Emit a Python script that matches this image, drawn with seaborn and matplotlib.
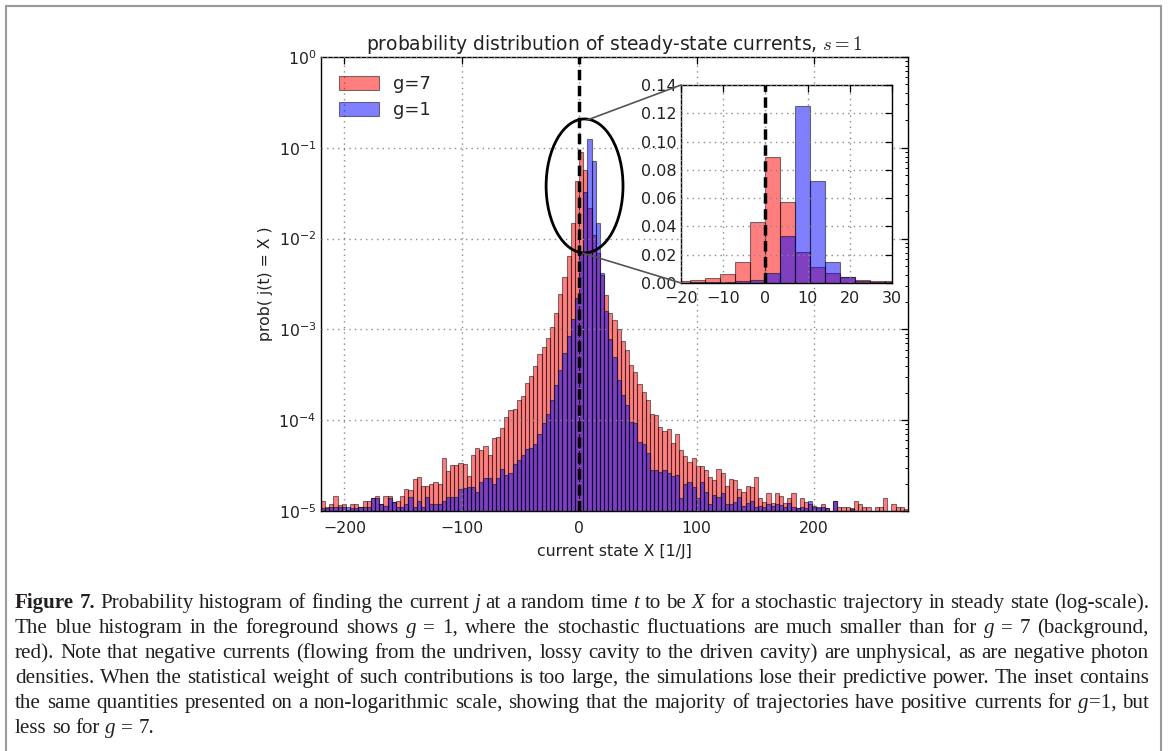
import re
import numpy as np
import pandas as pd
import matplotlib
matplotlib.use("Agg")
import matplotlib.pyplot as plt
import seaborn as sns
from matplotlib.patches import Ellipse, ConnectionPatch, Patch
from matplotlib.lines import Line2D
from matplotlib.ticker import FormatStrFormatter

# ---------------- data ----------------
x_min, x_max, n_bins = -220, 280, 141
bin_edges = np.linspace(x_min, x_max, n_bins + 1)
bin_centers = 0.5 * (bin_edges[:-1] + bin_edges[1:])

prob_g7 = [
    1.29e-5, 1.1e-5, 1.19e-5, 1.47e-5, 1.15e-5, 1.18e-5, 1.02e-5, 1.19e-5, 1.19e-5, 1.1e-5,
    1.3e-5, 1.3e-5, 1.38e-5, 1.47e-5, 1.19e-5, 1.47e-5, 1.47e-5, 1.27e-5, 1.3e-5, 1.47e-5,
    1.74e-5, 1.7e-5, 2.25e-5, 2.34e-5, 1.88e-5, 1.88e-5, 2.0e-5, 2.1e-5, 1.98e-5, 3.8e-5,
    2.75e-5, 3.2e-5, 3.2e-5, 3.35e-5, 3.3e-5, 2.45e-5, 4.1e-5, 4.9e-5, 4.7e-5, 5.2e-5,
    4.1e-5, 6.4e-5, 6.6e-5, 8.3e-5, 1.09e-4, 1.29e-4, 1.32e-4, 1.66e-4, 1.85e-4, 2.57e-4,
    3.05e-4, 4.0e-4, 5.4e-4, 6.4e-4, 8.0e-4, 1.05e-3, 1.5e-3, 2.46e-3, 3.8e-3, 6.5e-3,
    0.015, 0.043, 0.089, 0.057, 0.022, 0.011, 0.007, 0.004, 0.0024, 0.0015,
    1.26e-3, 1.02e-3, 7.4e-4, 6.0e-4, 4.1e-4, 3.4e-4, 2.5e-4, 2.05e-4, 1.66e-4, 1.18e-4,
    1.13e-4, 8.5e-5, 7.7e-5, 8.0e-5, 5.6e-5, 7.0e-5, 4.7e-5, 4.0e-5, 3.5e-5, 3.8e-5,
    3.1e-5, 3.1e-5, 2.8e-5, 2.34e-5, 2.2e-5, 2.87e-5, 2.6e-5, 1.88e-5, 2.25e-5, 2.2e-5,
    1.73e-5, 1.62e-5, 1.88e-5, 1.82e-5, 2.34e-5, 1.38e-5, 1.27e-5, 1.59e-5, 1.23e-5, 1.56e-5,
    1.46e-5, 1.23e-5, 1.38e-5, 1.56e-5, 1.07e-5, 1.38e-5, 1.27e-5, 1.2e-5, 1.13e-5, 1.09e-5,
    1.19e-5, 1.07e-5, 0.0, 1.3e-5, 1.12e-5, 1.12e-5, 1.12e-5, 1.07e-5, 1.3e-5, 1.19e-5,
    1.12e-5, 1.12e-5, 0.0, 1.1e-5, 1.12e-5, 1.38e-5, 0.0, 1.19e-5, 1.12e-5, 1.12e-5,
    1.05e-5,
]

prob_g1 = [
    1.07e-5, 1.07e-5, 1.12e-5, 1.1e-5, 1.12e-5, 1.1e-5, 1.12e-5, 1.07e-5, 1.07e-5, 1.1e-5,
    1.1e-5, 1.1e-5, 1.38e-5, 1.38e-5, 1.19e-5, 1.13e-5, 1.38e-5, 1.27e-5, 1.1e-5, 1.12e-5,
    1.19e-5, 1.44e-5, 1.1e-5, 1.29e-5, 1.1e-5, 1.44e-5, 1.19e-5, 1.19e-5, 1.19e-5, 1.29e-5,
    1.44e-5, 1.44e-5, 1.44e-5, 1.75e-5, 1.8e-5, 1.85e-5, 1.85e-5, 1.63e-5, 2.07e-5, 2.28e-5,
    2.28e-5, 2.0e-5, 2.28e-5, 2.87e-5, 2.5e-5, 2.64e-5, 3.3e-5, 3.64e-5, 4.1e-5, 4.8e-5,
    5.0e-5, 5.5e-5, 7.0e-5, 9.4e-5, 1.18e-4, 1.66e-4, 2.43e-4, 3.55e-4, 5.5e-4, 8.5e-4,
    1.3e-3, 2.2e-3, 7.0e-3, 0.033, 0.125, 0.072, 0.015, 0.0042, 0.0016, 7.9e-4,
    5.0e-4, 2.75e-4, 1.9e-4, 1.46e-4, 9.6e-5, 9.2e-5, 5.8e-5, 5.5e-5, 4.3e-5, 2.8e-5,
    2.8e-5, 2.7e-5, 2.8e-5, 2.6e-5, 2.4e-5, 2.5e-5, 1.38e-5, 1.97e-5, 2.1e-5, 1.85e-5,
    1.38e-5, 2.1e-5, 1.63e-5, 1.19e-5, 1.5e-5, 1.41e-5, 1.56e-5, 1.19e-5, 1.19e-5, 1.27e-5,
    1.41e-5, 1.13e-5, 1.23e-5, 1.3e-5, 1.12e-5, 1.13e-5, 1.12e-5, 1.19e-5, 1.13e-5, 1.19e-5,
    1.15e-5, 1.12e-5, 1.23e-5, 1.12e-5, 1.07e-5, 1.12e-5, 1.07e-5, 1.3e-5, 1.12e-5, 1.12e-5,
    1.12e-5, 1.07e-5, 0.0, 1.3e-5, 0.0, 0.0, 0.0, 1.05e-5, 0.0, 0.0,
    0.0, 0.0, 0.0, 0.0, 0.0, 0.0, 0.0, 0.0, 0.0, 0.0,
    0.0,
]

series_labels = ["g=7", "g=1"]
series_colors = ["red", "blue"]

main_xticks = [-200, -100, 0, 100, 200]
main_yticks = [1e-5, 1e-4, 1e-3, 1e-2, 1e-1, 1e0]
inset_xticks = [-20, -10, 0, 10, 20, 30]
inset_yticks = [0.0, 0.02, 0.04, 0.06, 0.08, 0.10, 0.12, 0.14]

title = r"probability distribution of steady-state currents, $s=1$"
xlabel = "current state X [1/J]"
ylabel = "prob( j(t) = X )"

caption_lines = [
    "**Figure 7.** Probability histogram of finding the current *j* at a random time *t* to be *X* for a stochastic trajectory in steady state (log-scale).",
    "The blue histogram in the foreground shows *g* = 1, where the stochastic fluctuations are much smaller than for *g* = 7 (background,",
    "red). Note that negative currents (flowing from the undriven, lossy cavity to the driven cavity) are unphysical, as are negative photon",
    "densities. When the statistical weight of such contributions is too large, the simulations lose their predictive power. The inset contains",
    "the same quantities presented on a non-logarithmic scale, showing that the majority of trajectories have positive currents for *g*=1, but",
    "less so for *g* = 7.",
]

# ---------------- figure ----------------
sns.set_style("white")
plt.rcParams["font.family"] = ["DejaVu Sans"]
plt.rcParams["mathtext.fontset"] = "cm"

W, H = 1168, 751
fig = plt.figure(figsize=(W / 100, H / 100), dpi=100)
fig.patch.set_facecolor("white")


def px_rect(l, t, r, b):
    return [l / W, 1 - b / H, (r - l) / W, (b - t) / H]


hist_frames = [pd.DataFrame({"X": bin_centers, "prob": np.asarray(v, dtype=float)})
               for v in (prob_g7, prob_g1)]
EDGE = (0, 0, 0, 0.5)


def draw_hists(ax):
    for df, col in zip(hist_frames, series_colors):
        sns.histplot(data=df, x="X", weights="prob", bins=list(bin_edges), color=col,
                     alpha=0.5, edgecolor=EDGE, linewidth=0.8, ax=ax)


def style_axes(ax, fs):
    for s in ax.spines.values():
        s.set_visible(True)
        s.set_color("black")
        s.set_linewidth(1.0)
    ax.tick_params(which="both", direction="in", top=True, right=True,
                   colors="black", labelcolor="#222222", labelsize=fs)
    ax.tick_params(which="major", length=5, width=0.9)
    ax.tick_params(which="minor", length=2.5, width=0.7)
    ax.grid(True, which="major", color="#8a8a8a", linestyle=(0, (1, 3)), linewidth=1.0)
    ax.set_axisbelow(False)


# main axes
ax = fig.add_axes(px_rect(321, 57, 908, 511))
draw_hists(ax)
ax.set_yscale("log")
ax.set_xlim(x_min, x_max)
ax.set_ylim(1e-5, 1)
ax.set_xticks(main_xticks)
ax.set_yticks(main_yticks)
style_axes(ax, 11.3)
ax.tick_params(axis="x", which="both", pad=7)
ax.axvline(0, color="black", linestyle=(0, (3, 1.6)), linewidth=2.5, zorder=5)
ax.set_title(title, fontsize=13.5, pad=5, color="#222222")
ax.set_xlabel(xlabel, fontsize=11.3, color="#222222", labelpad=6)
ax.set_ylabel(ylabel, fontsize=11.3, color="#222222", labelpad=4)

handles = [Patch(facecolor=c, alpha=0.5, edgecolor="black", linewidth=0.8) for c in series_colors]
ax.legend(handles, series_labels, loc="upper left", frameon=False, fontsize=13,
          handlelength=2.2, handleheight=0.8, handletextpad=0.8, labelspacing=0.45,
          borderaxespad=0.6)

ell = Ellipse((0.449, 0.716), 0.131, 0.295, transform=ax.transAxes, fill=False,
              edgecolor="black", linewidth=2.0, zorder=6)
ax.add_patch(ell)

# inset axes
axi = fig.add_axes(px_rect(681, 85, 892, 283))
draw_hists(axi)
axi.set_xlim(-20, 30)
axi.set_ylim(0, 0.14)
axi.set_xticks(inset_xticks)
axi.set_yticks(inset_yticks)
axi.yaxis.set_major_formatter(FormatStrFormatter("%.2f"))
style_axes(axi, 11.5)
axi.tick_params(axis="y", which="both", pad=3)
axi.tick_params(axis="x", which="both", pad=6)
axi.axvline(0, color="black", linestyle=(0, (3, 1.6)), linewidth=2.5, zorder=5)
axi.set_xlabel("")
axi.set_ylabel("")

for (xa, ya), (xb, yb) in [((0.453, 0.861), (0, 1)), ((0.446, 0.568), (0, 0))]:
    con = ConnectionPatch(xyA=(xa, ya), coordsA=ax.transAxes, xyB=(xb, yb),
                          coordsB=axi.transAxes, color="#555555", linewidth=1.2, zorder=7)
    fig.add_artist(con)

# outer frame
for xs, ys in [([6, 1161], [6, 6]), ([6, 6], [6, 751]), ([1161, 1161], [6, 751])]:
    fig.add_artist(Line2D([x / W for x in xs], [1 - y / H for y in ys],
                          transform=fig.transFigure, color="#9a9a9a", linewidth=1.5))

# ---------------- caption (justified) ----------------
renderer = fig.canvas.get_renderer()
CAP_FONT = "Liberation Serif"
cap_left, cap_right = 15, 1149
cap_baselines = [608, 633, 658, 683, 708, 733]


def parse_words(line):
    segs = []
    for part in re.split(r"(\*\*[^*]+\*\*|\*[^*]+\*)", line):
        if not part:
            continue
        if part.startswith("**"):
            segs.append((part[2:-2], "bold"))
        elif part.startswith("*"):
            segs.append((part[1:-1], "italic"))
        else:
            segs.append((part, "normal"))
    words, cur = [], []
    for text, style in segs:
        pieces = text.split(" ")
        for i, p in enumerate(pieces):
            if i > 0:
                if cur:
                    words.append(cur)
                cur = []
            if p:
                cur.append((p, style))
    if cur:
        words.append(cur)
    return words


def seg_props(style):
    if style == "bold":
        return dict(fontweight="bold", fontstyle="normal")
    if style == "italic":
        return dict(fontweight="normal", fontstyle="italic")
    return dict(fontweight="normal", fontstyle="normal")


def measure(text, style, size):
    t = fig.text(0, 0, text, family=CAP_FONT, fontsize=size, **seg_props(style))
    w = t.get_window_extent(renderer).width
    t.remove()
    return w


ref = 10.0
parsed = [parse_words(l) for l in caption_lines]
space_ref = measure("a a", "normal", ref) - measure("aa", "normal", ref)
nat = []
for words in parsed:
    ww = sum(measure(s, st, ref) for w in words for s, st in w)
    nat.append(ww + space_ref * (len(words) - 1))
target = cap_right - cap_left
cap_size = ref * target / max(nat[:5]) * 0.995

for li, words in enumerate(parsed):
    widths = [[measure(s, st, cap_size) for s, st in w] for w in words]
    total = sum(sum(w) for w in widths)
    space = space_ref * cap_size / ref
    if li < len(parsed) - 1 and len(words) > 1:
        gap = (target - total) / (len(words) - 1)
    else:
        gap = space
    x = cap_left
    yb = 1 - cap_baselines[li] / H
    for w, wl in zip(words, widths):
        xx = x
        for (s, st), sw in zip(w, wl):
            fig.text(xx / W, yb, s, family=CAP_FONT, fontsize=cap_size, color="#231f20",
                     va="baseline", ha="left", **seg_props(st))
            xx += sw
        x += sum(wl) + gap

fig.savefig("out.png", dpi=100, facecolor="white")
